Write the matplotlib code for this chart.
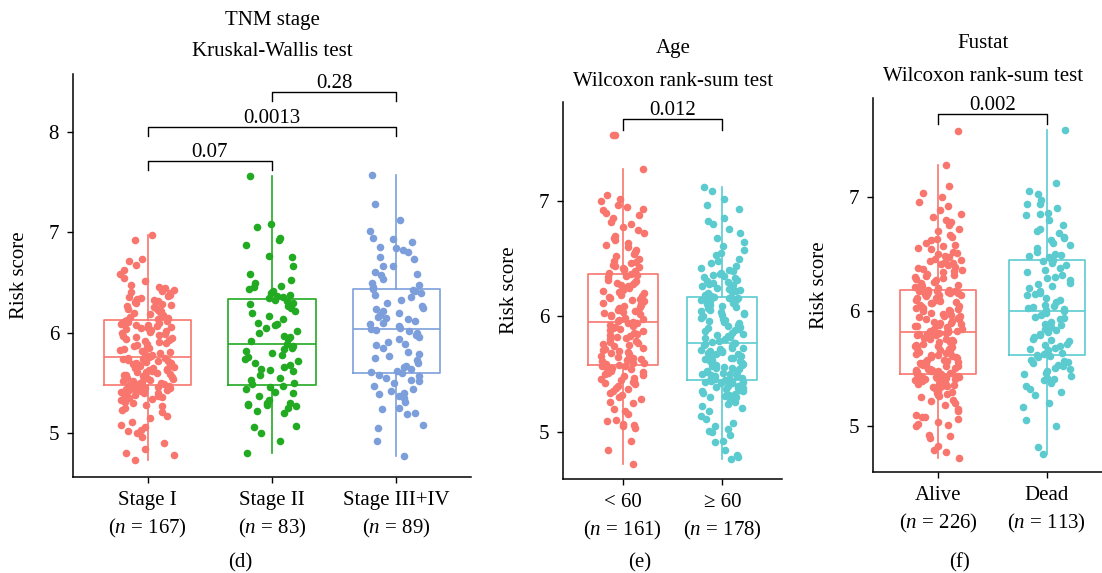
import numpy as np
import matplotlib
matplotlib.use("Agg")
import matplotlib.pyplot as plt

plt.rcParams['font.family'] = ['Liberation Serif', 'DejaVu Serif']
plt.rcParams['mathtext.fontset'] = 'custom'
plt.rcParams['mathtext.rm'] = 'Liberation Serif'
plt.rcParams['mathtext.it'] = 'Liberation Serif:italic'

# risk scores per group
stage_i = [4.73, 4.78, 4.80, 4.84, 4.90, 4.96, 5.00, 5.02, 5.03, 5.06, 5.08, 5.11, 5.15, 5.17,
           5.21, 5.23, 5.25, 5.27, 5.28, 5.30, 5.31, 5.32, 5.33, 5.34, 5.35, 5.36, 5.37, 5.38,
           5.39, 5.40, 5.40, 5.41, 5.42, 5.42, 5.43, 5.43, 5.44, 5.44, 5.45, 5.45, 5.46,
           5.47, 5.48, 5.48, 5.49, 5.50, 5.50, 5.51, 5.52, 5.52, 5.53, 5.54, 5.55, 5.55, 5.56,
           5.57, 5.58, 5.58, 5.59, 5.60, 5.61, 5.61, 5.62, 5.63, 5.63, 5.64, 5.65, 5.65, 5.66,
           5.67, 5.68, 5.68, 5.69, 5.70, 5.70, 5.71, 5.72, 5.72, 5.73, 5.74, 5.74, 5.75, 5.75,
           5.76, 5.77, 5.78, 5.79, 5.80, 5.81, 5.82, 5.83, 5.84, 5.85, 5.86, 5.87, 5.88, 5.89,
           5.90, 5.91, 5.92, 5.93, 5.94, 5.95, 5.96, 5.97, 5.98, 5.99, 6.00, 6.01, 6.02, 6.03,
           6.04, 6.05, 6.05, 6.06, 6.07, 6.08, 6.08, 6.09, 6.10, 6.10, 6.11, 6.11, 6.12, 6.12,
           6.13, 6.14, 6.15, 6.16, 6.17, 6.18, 6.19, 6.20, 6.21, 6.22, 6.23, 6.24, 6.25, 6.26,
           6.27, 6.28, 6.29, 6.30, 6.31, 6.32, 6.33, 6.34, 6.35, 6.36, 6.37, 6.38, 6.40, 6.41,
           6.42, 6.43, 6.45, 6.46, 6.48, 6.52, 6.55, 6.58, 6.62, 6.67, 6.71, 6.73, 6.92, 6.97]
stage_ii = [4.80, 4.92, 5.00, 5.06, 5.07, 5.20, 5.22, 5.25, 5.27, 5.28, 5.28, 5.29, 5.30, 5.30,
            5.33, 5.37, 5.40, 5.41, 5.44, 5.46, 5.47,
            5.49, 5.50, 5.53, 5.55, 5.58, 5.62, 5.63, 5.64, 5.66, 5.68, 5.70, 5.72, 5.74, 5.76,
            5.78, 5.80, 5.82, 5.84, 5.85, 5.87, 5.89,
            5.92, 5.94, 5.96, 5.97, 6.00, 6.02, 6.05, 6.08, 6.09, 6.10, 6.14, 6.17, 6.20, 6.22,
            6.25, 6.27, 6.29, 6.30, 6.32, 6.33,
            6.35, 6.36, 6.37, 6.38, 6.40, 6.42, 6.44, 6.46, 6.47, 6.50, 6.53, 6.58, 6.66, 6.75,
            6.76, 6.87, 6.92, 6.94, 7.05, 7.08, 7.56]
stage_iii_iv = [4.77, 4.92, 5.05, 5.08, 5.19, 5.20, 5.24, 5.25, 5.31, 5.35, 5.37, 5.39, 5.40,
                5.42, 5.44, 5.47, 5.50, 5.52, 5.53, 5.55, 5.57, 5.58, 5.60,
                5.61, 5.62, 5.64, 5.66, 5.67, 5.70, 5.73, 5.75, 5.77, 5.79, 5.81, 5.85, 5.88,
                5.89, 5.91, 5.94, 5.96, 5.98, 6.00, 6.02, 6.03, 6.04,
                6.05, 6.07, 6.09, 6.10, 6.12, 6.14, 6.15, 6.16, 6.18, 6.20, 6.22, 6.24, 6.25,
                6.27, 6.30, 6.33, 6.36, 6.38, 6.40, 6.42, 6.43, 6.44,
                6.46, 6.48, 6.50, 6.54, 6.57, 6.58, 6.60, 6.66, 6.66, 6.73, 6.75, 6.80, 6.82,
                6.84, 6.85, 6.90, 6.93, 6.94, 7.01, 7.12, 7.28, 7.57]

age_lt60 = [4.72, 4.84, 4.92, 5.03, 5.05, 5.06, 5.07, 5.09, 5.10, 5.15, 5.18, 5.20, 5.25, 5.26,
            5.28, 5.30, 5.32, 5.34, 5.35, 5.37, 5.38, 5.40, 5.41, 5.42, 5.43, 5.44, 5.45, 5.46,
            5.47, 5.48, 5.49, 5.50, 5.51, 5.52, 5.53, 5.54, 5.55, 5.56, 5.57, 5.57, 5.58,
            5.59, 5.60, 5.60, 5.61, 5.62, 5.63, 5.63, 5.64, 5.65, 5.66, 5.67, 5.68, 5.69, 5.70,
            5.71, 5.72, 5.73, 5.74, 5.75, 5.76, 5.77, 5.78, 5.79, 5.80, 5.81, 5.82, 5.83, 5.84,
            5.85, 5.86, 5.87, 5.88, 5.89, 5.90, 5.91, 5.92, 5.93, 5.94, 5.94, 5.95,
            5.96, 5.97, 5.98, 5.99, 6.00, 6.01, 6.02, 6.03, 6.04, 6.05, 6.06, 6.07, 6.08, 6.09,
            6.10, 6.11, 6.12, 6.13, 6.14, 6.15, 6.16, 6.17, 6.18, 6.19, 6.20, 6.21, 6.22, 6.23,
            6.25, 6.26, 6.27, 6.28, 6.29, 6.30, 6.31, 6.32, 6.34, 6.35, 6.36, 6.37,
            6.38, 6.39, 6.40, 6.41, 6.42, 6.43, 6.44, 6.45, 6.46, 6.47, 6.48, 6.50, 6.52, 6.54,
            6.56, 6.58, 6.60, 6.62, 6.64, 6.66, 6.68, 6.70, 6.72, 6.75, 6.78, 6.80, 6.82, 6.85,
            6.88, 6.90, 6.92, 6.93, 6.95, 6.97, 7.00, 7.02, 7.05, 7.28, 7.57, 7.57]
age_ge60 = [4.76, 4.78, 4.80, 4.84, 4.91, 4.92, 4.97, 5.00, 5.01, 5.02, 5.05, 5.08, 5.11, 5.14,
            5.18, 5.21, 5.22, 5.24, 5.26, 5.27, 5.28, 5.29, 5.30, 5.30, 5.31, 5.32, 5.33, 5.34,
            5.35, 5.35, 5.36, 5.37, 5.38, 5.38, 5.39, 5.40, 5.40, 5.41, 5.42, 5.42, 5.43, 5.43,
            5.44, 5.44, 5.45, 5.45,
            5.46, 5.46, 5.47, 5.48, 5.48, 5.49, 5.50, 5.50, 5.51, 5.52, 5.52, 5.53, 5.54, 5.55,
            5.55, 5.56, 5.57, 5.58, 5.58, 5.59, 5.60, 5.61, 5.61, 5.62, 5.63, 5.64, 5.64, 5.65,
            5.66, 5.67, 5.67, 5.68, 5.69, 5.70, 5.70, 5.71, 5.72, 5.73, 5.73, 5.74, 5.75, 5.76,
            5.77, 5.77,
            5.78, 5.79, 5.80, 5.81, 5.82, 5.83, 5.84, 5.85, 5.86, 5.87, 5.88, 5.89, 5.90, 5.91,
            5.92, 5.93, 5.94, 5.95, 5.96, 5.97, 5.98, 5.99, 6.00, 6.01, 6.02, 6.03, 6.04, 6.05,
            6.06, 6.07, 6.08, 6.09, 6.10, 6.11, 6.12, 6.13, 6.13, 6.14, 6.14, 6.15, 6.15, 6.16,
            6.16, 6.17,
            6.18, 6.19, 6.20, 6.21, 6.22, 6.23, 6.24, 6.25, 6.26, 6.27, 6.28, 6.29, 6.30, 6.31,
            6.32, 6.33, 6.34, 6.35, 6.36, 6.37, 6.38, 6.39, 6.40, 6.42, 6.44, 6.46, 6.48, 6.50,
            6.53, 6.55, 6.58, 6.61, 6.65, 6.68, 6.72, 6.76, 6.80, 6.83, 6.85, 6.93, 6.97, 7.02,
            7.09, 7.12]

alive = [4.72, 4.77, 4.79, 4.83, 4.90, 4.91, 4.92, 5.00, 5.01, 5.02, 5.04, 5.06, 5.08, 5.08,
         5.10, 5.13, 5.15, 5.18, 5.20, 5.22, 5.23, 5.25, 5.26, 5.27, 5.28, 5.29, 5.30, 5.30,
         5.31, 5.32, 5.33, 5.33, 5.34, 5.35, 5.35, 5.36, 5.37, 5.37, 5.38, 5.38, 5.39, 5.39,
         5.40, 5.40, 5.41, 5.41, 5.42, 5.42, 5.42, 5.43, 5.43, 5.43, 5.44, 5.44, 5.44, 5.44,
         5.45, 5.45,
         5.46, 5.46, 5.47, 5.47, 5.48, 5.48, 5.49, 5.49, 5.50, 5.50, 5.51, 5.52, 5.52, 5.53,
         5.54, 5.54, 5.55, 5.56, 5.56, 5.57, 5.58, 5.58, 5.59, 5.60, 5.60, 5.61, 5.62, 5.62,
         5.63, 5.64, 5.65, 5.65, 5.66, 5.67, 5.68, 5.69, 5.70, 5.70, 5.71, 5.72, 5.73, 5.73,
         5.74, 5.75, 5.76, 5.76, 5.77, 5.78, 5.79, 5.79, 5.80, 5.80, 5.81, 5.81,
         5.82, 5.82,
         5.83, 5.83, 5.84, 5.85, 5.85, 5.86, 5.87, 5.87, 5.88, 5.89, 5.90, 5.90, 5.91, 5.92,
         5.93, 5.93, 5.94, 5.95, 5.96, 5.96, 5.97, 5.98, 5.99, 6.00, 6.00, 6.01, 6.02, 6.03,
         6.03, 6.04, 6.05, 6.06, 6.07, 6.07, 6.08, 6.09, 6.10, 6.10, 6.11, 6.12, 6.12, 6.13,
         6.14, 6.14, 6.15, 6.15, 6.16, 6.16, 6.17, 6.17, 6.18, 6.18, 6.18, 6.19,
         6.19, 6.19,
         6.20, 6.21, 6.22, 6.23, 6.24, 6.25, 6.26, 6.27, 6.28, 6.29, 6.30, 6.31, 6.32, 6.33,
         6.34, 6.35, 6.36, 6.37, 6.38, 6.39, 6.40, 6.41, 6.42, 6.43, 6.44, 6.45, 6.46, 6.47,
         6.48, 6.50, 6.51, 6.52, 6.54, 6.55, 6.57, 6.58, 6.60, 6.62, 6.63, 6.65, 6.67, 6.70,
         6.72, 6.75, 6.78, 6.80, 6.82, 6.85, 6.88, 6.92, 6.95, 7.00, 7.03, 7.09, 7.28, 7.57]
dead = [4.76, 4.82, 5.00, 5.05, 5.17, 5.20, 5.27, 5.30, 5.32, 5.35, 5.38, 5.40, 5.41, 5.42,
        5.44, 5.45, 5.46, 5.48, 5.50, 5.51, 5.52, 5.53, 5.55, 5.56, 5.57, 5.58, 5.60, 5.61,
        5.62,
        5.63, 5.64, 5.65, 5.66, 5.67, 5.68, 5.70, 5.71, 5.72, 5.74, 5.75, 5.76, 5.78, 5.79,
        5.80, 5.82, 5.84, 5.85, 5.86, 5.88, 5.89, 5.91, 5.93, 5.94, 5.95, 5.97, 5.99,
        6.00,
        6.01, 6.02, 6.03, 6.04, 6.05, 6.06, 6.08, 6.10, 6.12, 6.14, 6.15, 6.16, 6.18, 6.20,
        6.22, 6.24, 6.25, 6.27, 6.29, 6.30, 6.32, 6.34, 6.36, 6.38, 6.40, 6.42, 6.44,
        6.45,
        6.46, 6.47, 6.48, 6.49, 6.50, 6.52, 6.55, 6.58, 6.60, 6.62, 6.64, 6.65, 6.68, 6.70,
        6.72, 6.75, 6.80, 6.84, 6.85, 6.86, 6.90, 6.94, 6.94, 6.97, 7.02, 7.05, 7.12, 7.58]

stage_labels = ['Stage I', 'Stage II', 'Stage III+IV']
age_labels = ['< 60', '\u2265 60']
status_labels = ['Alive', 'Dead']

# pairwise p-values: (group a, group b, bracket height, label)
stage_pvals = [(1, 2, 7.71, '0.07'), (1, 3, 8.05, '0.0013'), (2, 3, 8.40, '0.28')]
age_pvals = [(1, 2, 7.71, '0.012')]
status_pvals = [(1, 2, 7.72, '0.002')]

RED, GREEN, BLUE, CYAN = '#F8766D', '#22AA22', '#7C9FDC', '#5BCBCF'
FS = 15

W, H = 1102, 573
fig = plt.figure(figsize=(W / 100, H / 100), dpi=100)


def px_rect(left, right, top, bottom):
    return [left / W, 1 - bottom / H, (right - left) / W, (bottom - top) / H]


def jitter(n, seed, width=0.22):
    # hash-style scatter of horizontal offsets, reproducible without an rng
    k = np.arange(n) + seed * 1000
    u = np.sin(k * 12.9898 + 78.233) * 43758.5453
    return width * (2 * (u - np.floor(u)) - 1)


def draw_panel(rect, groups, colors, labels, ylim, yticks, pvals, seed, leg=0.085):
    ax = fig.add_axes(rect)
    pos = np.arange(1, len(groups) + 1)
    bp = ax.boxplot(groups, positions=pos, widths=0.7, showfliers=False,
                    showcaps=False, whis=1.5)
    for i, c in enumerate(colors):
        bp['boxes'][i].set(color=c, linewidth=1.2)
        bp['medians'][i].set(color=c, linewidth=1.2)
        for w in bp['whiskers'][2 * i:2 * i + 2]:
            w.set(color=c, linewidth=1.2)
    for i, (g, c) in enumerate(zip(groups, colors)):
        ax.scatter(pos[i] + jitter(len(g), seed + i), g, s=30, color=c,
                   linewidth=0, zorder=3)
    for a, b, y, txt in pvals:
        ax.plot([a, a, b, b], [y - leg, y, y, y - leg], color='black', linewidth=1.0)
        ax.annotate(txt, ((a + b) / 2, y), xytext=(0, 3), textcoords='offset points',
                    ha='center', va='baseline', fontsize=FS)
    ax.set_xlim(0.4, len(groups) + 0.6)
    ax.set_ylim(*ylim)
    ax.set_yticks(yticks)
    ax.set_yticklabels([str(t) for t in yticks])
    ax.set_xticks(pos)
    ax.set_xticklabels(labels, linespacing=1.45)
    for s in ['top', 'right']:
        ax.spines[s].set_visible(False)
    for s in ['left', 'bottom']:
        ax.spines[s].set_linewidth(1.1)
    ax.tick_params(labelsize=FS, length=4, width=1.0)
    ax.tick_params(axis='y', pad=6)
    ax.tick_params(axis='x', pad=6)
    return ax


def xlabels(names, groups):
    return [f'{nm}\n($\\mathit{{n}}$ = {len(g)})' for nm, g in zip(names, groups)]


def ftext(x, y, s, **kw):
    fig.text(x / W, 1 - y / H, s, ha='center', va='center', fontsize=FS, **kw)


g_stage = [stage_i, stage_ii, stage_iii_iv]
draw_panel(px_rect(73, 471, 74, 477), g_stage, [RED, GREEN, BLUE],
           xlabels(stage_labels, g_stage), (4.56, 8.58), [5, 6, 7, 8], stage_pvals, 1)
g_age = [age_lt60, age_ge60]
draw_panel(px_rect(563, 782, 102, 479), g_age, [RED, CYAN],
           xlabels(age_labels, g_age), (4.59, 7.86), [5, 6, 7], age_pvals, 5, leg=0.09)
g_status = [alive, dead]
draw_panel(px_rect(873, 1112, 98, 472), g_status, [RED, CYAN],
           xlabels(status_labels, g_status), (4.60, 7.86), [5, 6, 7], status_pvals, 9, leg=0.09)

# titles, axis labels and panel letters
ftext(272, 21, 'TNM stage')
ftext(272, 51, 'Kruskal-Wallis test')
ftext(673, 49, 'Age')
ftext(673, 82, 'Wilcoxon rank-sum test')
ftext(983, 43, 'Fustat')
ftext(983, 76, 'Wilcoxon rank-sum test')
ftext(20, 275, 'Risk score', rotation=90)
ftext(510, 290, 'Risk score', rotation=90)
ftext(820, 285, 'Risk score', rotation=90)
ftext(240, 563, '(d)')
ftext(640, 563, '(e)')
ftext(960, 563, '(f)')

fig.savefig('out.png', dpi=100)
